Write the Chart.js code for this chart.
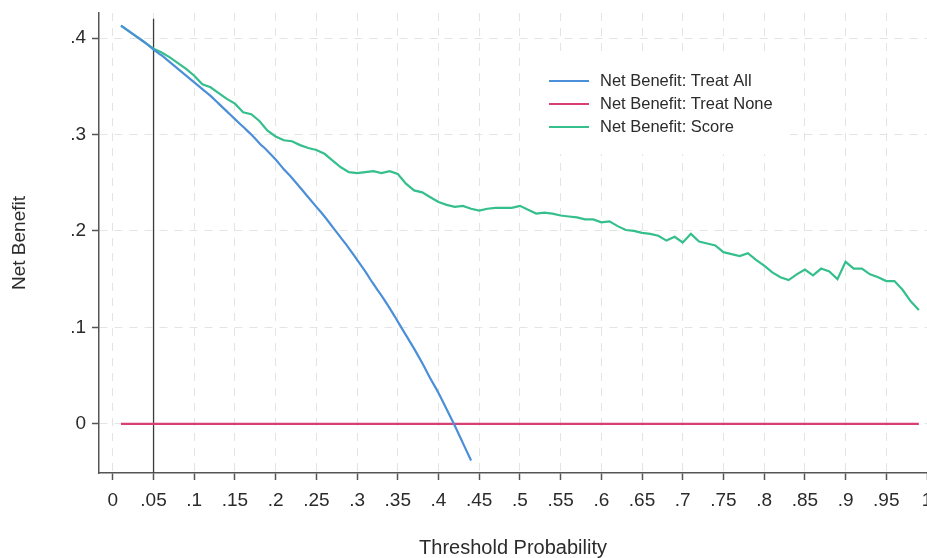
<!DOCTYPE html>
<html>
<head>
<meta charset="utf-8">
<title>Decision curve</title>
<script src="https://cdn.jsdelivr.net/npm/chart.js@4.4.1/dist/chart.umd.min.js"></script>
<style>
  html, body { margin: 0; padding: 0; background: #fff; overflow: hidden; }
  #wrap { width: 927px; height: 558px; }
</style>
</head>
<body>
<div id="wrap"><canvas id="dcaChart" width="927" height="558"></canvas></div>
<script>
// threshold probabilities (x)
const thresholds = [
  0.01, 0.02, 0.03, 0.04, 0.05, 0.06, 0.07, 0.08, 0.09, 0.10,
  0.11, 0.12, 0.13, 0.14, 0.15, 0.16, 0.17, 0.18, 0.19, 0.20,
  0.21, 0.22, 0.23, 0.24, 0.25, 0.26, 0.27, 0.28, 0.29, 0.30,
  0.31, 0.32, 0.33, 0.34, 0.35, 0.36, 0.37, 0.38, 0.39, 0.40,
  0.41, 0.42, 0.43, 0.44, 0.45, 0.46, 0.47, 0.48, 0.49, 0.50,
  0.51, 0.52, 0.53, 0.54, 0.55, 0.56, 0.57, 0.58, 0.59, 0.60,
  0.61, 0.62, 0.63, 0.64, 0.65, 0.66, 0.67, 0.68, 0.69, 0.70,
  0.71, 0.72, 0.73, 0.74, 0.75, 0.76, 0.77, 0.78, 0.79, 0.80,
  0.81, 0.82, 0.83, 0.84, 0.85, 0.86, 0.87, 0.88, 0.89, 0.90,
  0.91, 0.92, 0.93, 0.94, 0.95, 0.96, 0.97, 0.98, 0.99
];

// Net Benefit: Treat All (0.01 .. 0.44)
const treatAll = [
  0.413, 0.407, 0.401, 0.395, 0.388, 0.382, 0.375, 0.368, 0.361, 0.354,
  0.347, 0.340, 0.332, 0.324, 0.316, 0.308, 0.300, 0.291, 0.283, 0.274,
  0.264, 0.255, 0.245, 0.235, 0.225, 0.215, 0.204, 0.193, 0.182, 0.170,
  0.158, 0.145, 0.133, 0.120, 0.106, 0.092, 0.078, 0.063, 0.047, 0.032,
  0.015, -0.002, -0.020, -0.038
];

// Net Benefit: Treat None
const treatNoneX = [0.01, 0.99];
const treatNoneY = [0, 0];

// Net Benefit: Score (0.01 .. 0.99)
const score = [
  0.413, 0.407, 0.401, 0.395, 0.389, 0.385, 0.380, 0.374, 0.368, 0.361,
  0.352, 0.349, 0.343, 0.337, 0.332, 0.323, 0.321, 0.314, 0.304, 0.298,
  0.294, 0.293, 0.289, 0.286, 0.284, 0.280, 0.273, 0.266, 0.261, 0.260,
  0.261, 0.262, 0.260, 0.262, 0.259, 0.249, 0.242, 0.240, 0.235, 0.230,
  0.227, 0.225, 0.226, 0.223, 0.221, 0.223, 0.224, 0.224, 0.224, 0.226,
  0.222, 0.218, 0.219, 0.218, 0.216, 0.215, 0.214, 0.212, 0.212, 0.209,
  0.210, 0.205, 0.201, 0.200, 0.198, 0.197, 0.195, 0.190, 0.194, 0.188,
  0.197, 0.189, 0.187, 0.185, 0.178, 0.176, 0.174, 0.177, 0.170, 0.164,
  0.157, 0.152, 0.149, 0.155, 0.160, 0.154, 0.161, 0.158, 0.150, 0.168,
  0.161, 0.161, 0.155, 0.152, 0.148, 0.148, 0.139, 0.127, 0.118
];

// vertical reference line at threshold .05
const refLineX = [0.05, 0.05];
const refLineY = [-0.051, 0.42];

const xTickValues = [0, 0.05, 0.1, 0.15, 0.2, 0.25, 0.3, 0.35, 0.4, 0.45, 0.5,
  0.55, 0.6, 0.65, 0.7, 0.75, 0.8, 0.85, 0.9, 0.95, 1];
const xTickLabels = ['0', '.05', '.1', '.15', '.2', '.25', '.3', '.35', '.4', '.45', '.5',
  '.55', '.6', '.65', '.7', '.75', '.8', '.85', '.9', '.95', '1'];
const yTickValues = [0, 0.1, 0.2, 0.3, 0.4];
const yTickLabels = ['0', '.1', '.2', '.3', '.4'];

const FONT = "'Liberation Sans', Arial, Helvetica, sans-serif";
const TEXT_COLOR = '#2b2b2b';
const AXIS_COLOR = '#555555';
const GRID_COLOR = '#e4e4e4';

const toPoints = (xs, ys) => ys.map((y, i) => ({ x: xs[i], y: y }));

// legend drawn inside the plot, on a white box like Stata's ring(0) legend
const boxLegend = {
  id: 'boxLegend',
  beforeDatasetsDraw(chart, args, opts) {
    const ctx = chart.ctx;
    const items = chart.data.datasets.filter(d => d.inLegend !== false);
    ctx.save();
    ctx.fillStyle = '#ffffff';
    ctx.fillRect(opts.box.x, opts.box.y, opts.box.w, opts.box.h);
    ctx.font = opts.font;
    ctx.textBaseline = 'middle';
    ctx.textAlign = 'left';
    items.forEach((d, i) => {
      const y = opts.firstRow + i * opts.rowGap;
      ctx.strokeStyle = d.borderColor;
      ctx.lineWidth = 2;
      ctx.beginPath();
      ctx.moveTo(opts.lineFrom, y);
      ctx.lineTo(opts.lineTo, y);
      ctx.stroke();
      ctx.fillStyle = TEXT_COLOR;
      ctx.fillText(d.label, opts.textX, y);
    });
    ctx.restore();
  }
};

const lineStyle = { pointRadius: 0, pointHoverRadius: 0, tension: 0, fill: false, borderWidth: 2.2 };

const ctx = document.getElementById('dcaChart').getContext('2d');
new Chart(ctx, {
  type: 'line',
  data: {
    datasets: [
      { ...lineStyle, label: 'Net Benefit: Treat All', data: toPoints(thresholds, treatAll), borderColor: '#4a8fd8', cubicInterpolationMode: 'monotone' },
      { ...lineStyle, label: 'Net Benefit: Treat None', data: toPoints(treatNoneX, treatNoneY), borderColor: '#d83f75' },
      { ...lineStyle, label: 'Net Benefit: Score', data: toPoints(thresholds, score), borderColor: '#35bf8c' },
      { ...lineStyle, label: 'Threshold .05', data: toPoints(refLineX, refLineY), borderColor: '#3a3a3a', borderWidth: 1.3, inLegend: false }
    ]
  },
  options: {
    responsive: false,
    animation: false,
    layout: { padding: { top: 13, right: 0, bottom: 0, left: 0 } },
    plugins: {
      legend: { display: false },
      tooltip: { enabled: false },
      boxLegend: {
        box: { x: 520, y: 52, w: 270, h: 102 },
        font: '16.5px ' + FONT,
        firstRow: 81,
        rowGap: 23,
        lineFrom: 549,
        lineTo: 589,
        textX: 600
      }
    },
    scales: {
      x: {
        type: 'linear',
        min: -0.017,
        max: 1,
        afterBuildTicks: s => { s.ticks = xTickValues.map(v => ({ value: v })); },
        afterFit: s => { s.height = 85; s.paddingLeft = 0; s.paddingRight = 0; },
        ticks: {
          autoSkip: false,
          maxRotation: 0,
          padding: 9,
          color: TEXT_COLOR,
          font: { family: FONT, size: 19 },
          callback: (v, i) => xTickLabels[i]
        },
        grid: { color: GRID_COLOR, lineWidth: 1, tickLength: 7, tickColor: AXIS_COLOR, tickWidth: 1.5 },
        border: { display: true, color: AXIS_COLOR, width: 1.5, dash: [8, 7] },
        title: {
          display: true,
          text: 'Threshold Probability',
          color: TEXT_COLOR,
          font: { family: FONT, size: 20 },
          padding: { top: 0, bottom: -2 }
        }
      },
      y: {
        type: 'linear',
        min: -0.051,
        max: 0.426,
        afterBuildTicks: s => { s.ticks = yTickValues.map(v => ({ value: v })); },
        afterFit: s => { s.width = 99; s.paddingTop = 0; s.paddingBottom = 0; },
        ticks: {
          padding: 6,
          color: TEXT_COLOR,
          font: { family: FONT, size: 19 },
          callback: (v, i) => yTickLabels[i]
        },
        grid: { color: GRID_COLOR, lineWidth: 1, tickLength: 7, tickColor: AXIS_COLOR, tickWidth: 1.5 },
        border: { display: true, color: AXIS_COLOR, width: 1.5, dash: [8, 7] },
        title: {
          display: true,
          text: 'Net Benefit',
          color: TEXT_COLOR,
          font: { family: FONT, size: 19 },
          padding: { top: 8, bottom: 0 }
        }
      }
    }
  },
  plugins: [boxLegend]
});
</script>
</body>
</html>
